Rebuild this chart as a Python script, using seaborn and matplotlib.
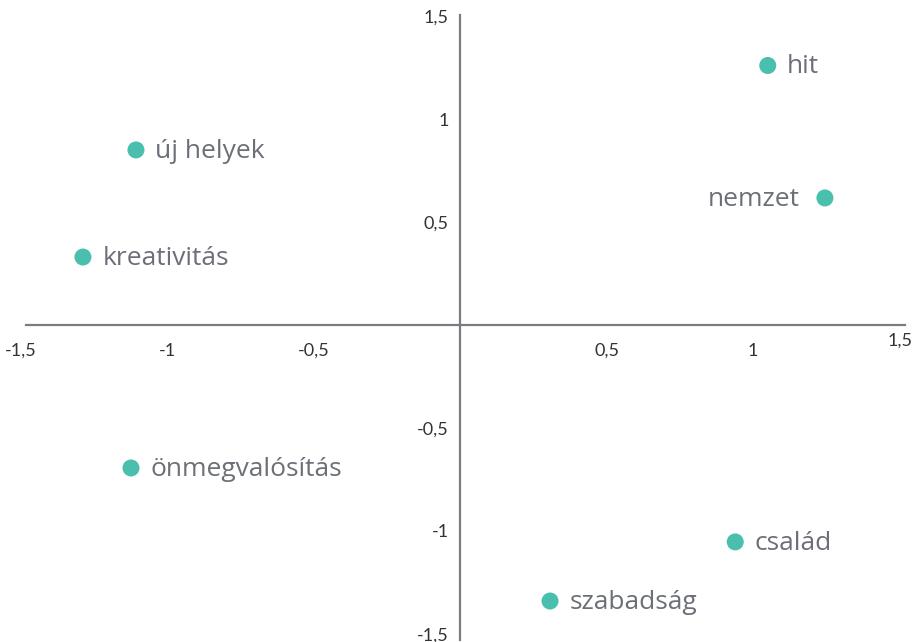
import numpy as np
import pandas as pd
import seaborn as sns
from matplotlib import pyplot as plt
from matplotlib.transforms import ScaledTranslation

# values
labels = ["hit", "nemzet", "új helyek", "kreativitás", "önmegvalósítás", "család", "szabadság"]
x_vals = [1.05, 1.245, -1.106, -1.287, -1.123, 0.939, 0.307]
y_vals = [1.26, 0.617, 0.85, 0.33, -0.694, -1.053, -1.34]
tick_vals = [-1.5, -1, -0.5, 0.5, 1, 1.5]
tick_text = ["-1,5", "-1", "-0,5", "0,5", "1", "1,5"]

df = pd.DataFrame({"label": labels, "x": x_vals, "y": y_vals})

sns.set_style("white")
plt.rcParams["font.family"] = ["Lato", "DejaVu Sans"]

fig = plt.figure(figsize=(9.14, 6.42), dpi=100)
ax = fig.add_axes([0, 0, 1, 1])

sns.scatterplot(data=df, x="x", y="y", s=150, color="#4bbfad",
                edgecolor="none", ax=ax, zorder=3)

for lab, xv, yv in zip(labels, x_vals, y_vals):
    if lab == "nemzet":
        ax.annotate(lab, (xv, yv), xytext=(-18, -1), textcoords="offset points",
                    ha="right", va="center", fontsize=19, color="#6c6f78",
                    family=["Open Sans", "DejaVu Sans"])
    else:
        ax.annotate(lab, (xv, yv), xytext=(14, -1), textcoords="offset points",
                    ha="left", va="center", fontsize=19, color="#6c6f78",
                    family=["Open Sans", "DejaVu Sans"])

ax.set_xlim(-1.570, 1.549)
ax.set_ylim(-1.539, 1.578)

for side in ["top", "right"]:
    ax.spines[side].set_visible(False)
ax.spines["left"].set_position(("data", 0))
ax.spines["bottom"].set_position(("data", 0))
ax.spines["bottom"].set_bounds(-1.481, 1.519)
ax.spines["left"].set_bounds(-1.529, 1.505)
for side in ["left", "bottom"]:
    ax.spines[side].set_color("#7b7c82")
    ax.spines[side].set_linewidth(1.6)

ax.set_xticks(tick_vals)
ax.set_xticklabels(tick_text)
ax.set_yticks(tick_vals)
ax.set_yticklabels(tick_text)
ax.tick_params(axis="x", length=0, pad=13, labelsize=13, labelcolor="#333333")
ax.tick_params(axis="y", length=0, pad=8, labelsize=13, labelcolor="#333333")
ax.set_xlabel("")
ax.set_ylabel("")

# the last x label sits a bit higher in the reference
last = ax.get_xticklabels()[-1]
last.set_transform(last.get_transform() + ScaledTranslation(0, 10 / 100, fig.dpi_scale_trans))

fig.savefig("out.png", dpi=100)
